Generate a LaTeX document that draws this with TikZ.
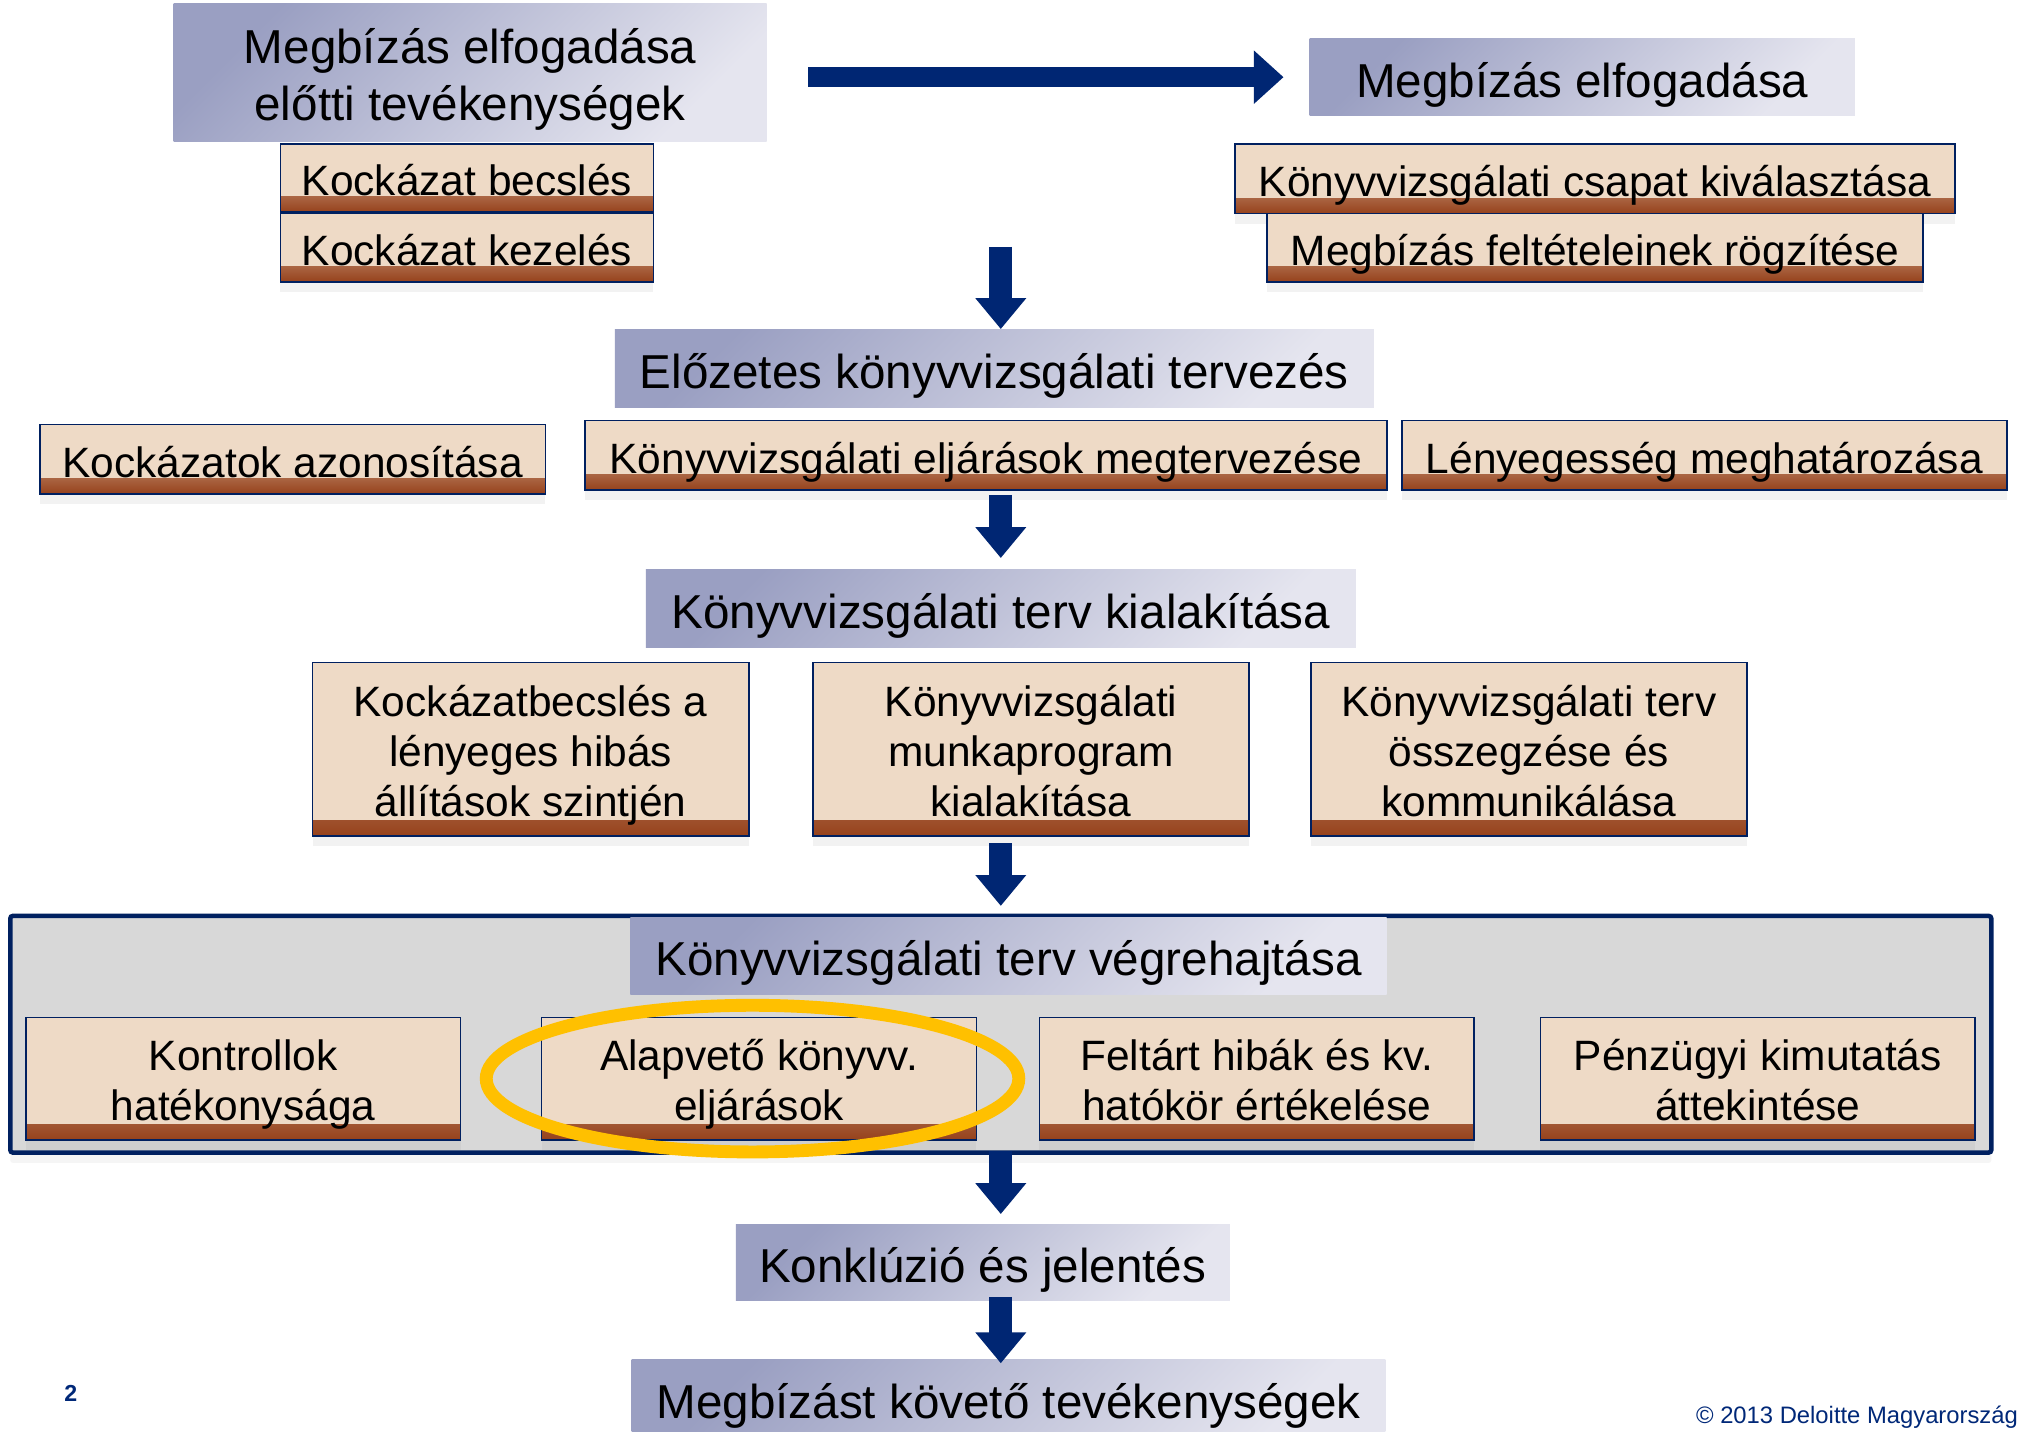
\documentclass[tikz,border=0pt]{standalone}
\usepackage{fontspec}
\setmainfont{Liberation Sans}
\usetikzlibrary{arrows.meta,shadows}
\definecolor{tanfill}{RGB}{238,218,198}
\definecolor{rust}{RGB}{150,66,28}
\definecolor{boxline}{RGB}{0,32,96}
\definecolor{navy}{RGB}{0,38,115}
\definecolor{headA}{RGB}{154,159,194}
\definecolor{headB}{RGB}{229,229,239}
\definecolor{panelgray}{RGB}{216,216,216}
\definecolor{ring}{RGB}{255,192,0}
\definecolor{foot}{RGB}{0,40,120}
\newcommand\boxstrut{\rule[-.25em]{0pt}{1.34em}}
\newcommand\topstrut{\rule{0pt}{1.05em}}
\newcommand\botstrut{\rule[-.25em]{0pt}{.25em}}
\tikzset{
  tanbox/.style={draw=boxline, line width=1.3pt, fill=tanfill, inner sep=0pt, align=center,
    font=\fontsize{33}{39}\selectfont,
    execute at begin node=\boxstrut, execute at end node=\boxstrut,
    drop shadow={shadow xshift=0pt, shadow yshift=-8pt, opacity=.10},
    path picture={\shade[top color=tanfill, middle color=rust!45!tanfill, bottom color=rust]
      ([yshift=12pt]path picture bounding box.south west) rectangle (path picture bounding box.south east);}},
  head/.style={inner sep=0pt, align=center, font=\fontsize{37}{44}\selectfont,
    execute at begin node=\boxstrut, execute at end node=\boxstrut,
    top color=headA, bottom color=headB, shading angle=45},
  panel/.style={draw=boxline, line width=3.5pt, fill=panelgray, rounded corners=2pt,
    drop shadow={shadow xshift=0pt, shadow yshift=-8pt, opacity=.08}},
  flow/.style={draw=navy, line width=18pt, -{Triangle[width=38pt,length=24pt]}},
}
\begin{document}
\begin{tikzpicture}[x=1pt, y=-1pt]
  \useasboundingbox (0,0) rectangle (1568,1113);
  \fill[white] (0,0) rectangle (1568,1113);
  \draw
    (365.5,56.5) node[head, minimum width=461pt, minimum height=107pt] (pre){\topstrut Megbízás elfogadása\\előtti tevékenységek\botstrut}
    (363,138.5) node[tanbox, minimum width=290pt, minimum height=53pt] (kbecs){Kockázat becslés}
    (363,192.5) node[tanbox, minimum width=290pt, minimum height=53pt] (kkez){Kockázat kezelés}
    (1230,60) node[head, minimum width=424pt, minimum height=60pt] (acc){Megbízás elfogadása}
    (1240,139) node[tanbox, minimum width=560pt, minimum height=54pt] (team){Könyvvizsgálati csapat kiválasztása}
    (1240,192.5) node[tanbox, minimum width=510pt, minimum height=53pt] (terms){Megbízás feltételeinek rögzítése}
    (773,286.5) node[head, minimum width=590pt, minimum height=61pt] (prelim){Előzetes könyvvizsgálati tervezés}
    (227.5,357) node[tanbox, minimum width=393pt, minimum height=54pt] (risk){Kockázatok azonosítása}
    (766.5,354) node[tanbox, minimum width=623pt, minimum height=54pt] (proc){Könyvvizsgálati eljárások megtervezése}
    (1325,354) node[tanbox, minimum width=470pt, minimum height=54pt] (mat){Lényegesség meghatározása}
    (778,473) node[head, minimum width=552pt, minimum height=60pt] (plan){Könyvvizsgálati terv kialakítása}
    (412.5,582.5) node[tanbox, minimum width=339pt, minimum height=135pt] (rb){\topstrut Kockázatbecslés a\\lényeges hibás\\állítások szintjén\botstrut}
    (801.5,582.5) node[tanbox, minimum width=339pt, minimum height=135pt] (mp){\topstrut Könyvvizsgálati\\munkaprogram\\kialakítása\botstrut}
    (1188.5,582.5) node[tanbox, minimum width=339pt, minimum height=135pt] (sum){\topstrut Könyvvizsgálati terv\\összegzése és\\kommunikálása\botstrut}
    (778,804) node[panel, minimum width=1540pt, minimum height=184pt] (vg){}
    (784,743) node[head, minimum width=588pt, minimum height=60pt] (exec){Könyvvizsgálati terv végrehajtása}
    (189,838.5) node[tanbox, minimum width=338pt, minimum height=95pt] (ctrl){\topstrut Kontrollok\\hatékonysága\botstrut}
    (590,838.5) node[tanbox, minimum width=338pt, minimum height=95pt] (subst){\topstrut Alapvető könyvv.\\eljárások\botstrut}
    (977,838.5) node[tanbox, minimum width=338pt, minimum height=95pt] (err){\topstrut Feltárt hibák és kv.\\hatókör értékelése\botstrut}
    (1366.5,838.5) node[tanbox, minimum width=338pt, minimum height=95pt] (review){\topstrut Pénzügyi kimutatás\\áttekintése\botstrut}
    (764,981.5) node[head, minimum width=384pt, minimum height=59pt] (concl){Konklúzió és jelentés}
    (784,1087) node[head, minimum width=586pt, minimum height=60pt] (post){Megbízást követő tevékenységek}
    (55,1083) node[text=foot, font=\bfseries\fontsize{18}{22}\selectfont] (page){2}
    (1315,1102) node[anchor=west, text=foot, font=\fontsize{18.5}{22}\selectfont] (copy){© 2013 Deloitte Magyarország};
  \draw[ring, line width=10pt] ([xshift=-5pt]subst.center) ellipse [x radius=207pt, y radius=57pt];
  \coordinate (a1) at (778,192);
  \begin{scope}[flow]
    \draw[line width=16pt, -{Triangle[width=40pt,length=23pt]}, shorten <=32pt, shorten >=20pt] (pre.east |- acc.west) to (acc.west);
    \draw (a1) to (a1 |- prelim.north);
    \draw[shorten <=3pt, shorten >=9pt] (proc.south -| plan.north) to (plan.north);
    \draw[shorten <=5pt, shorten >=6pt] (mp.south -| plan.north) to (vg.north -| plan.north);
    \draw[shorten <=-3pt, shorten >=8pt] (vg.south -| plan.north) to (concl.north -| plan.north);
    \draw[shorten <=-3pt, shorten >=-3pt] (concl.south -| plan.north) to (post.north -| plan.north);
  \end{scope}
\end{tikzpicture}
\end{document}
